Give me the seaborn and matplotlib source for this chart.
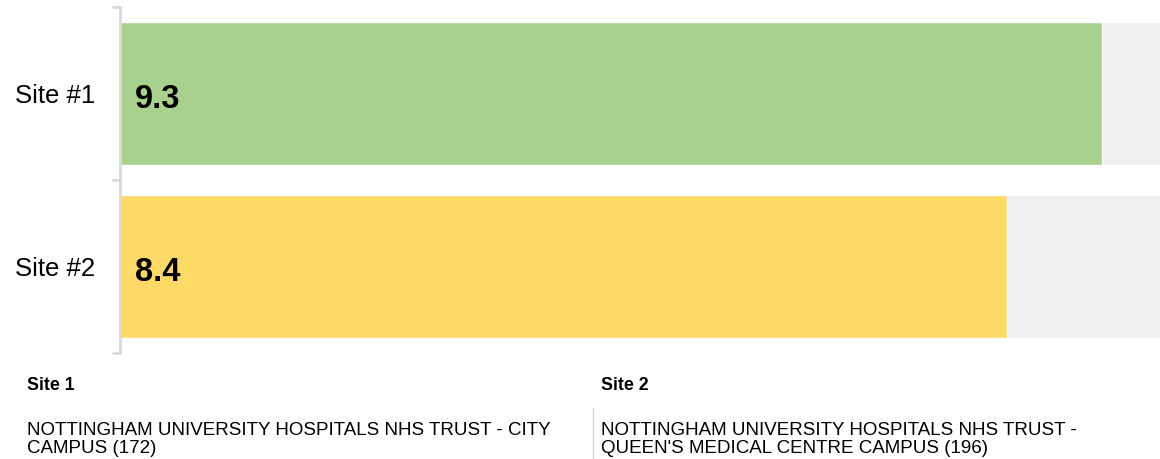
import matplotlib
matplotlib.use("Agg")
import matplotlib.pyplot as plt
import seaborn as sns

# Scores per site
sites = ["Site #1", "Site #2"]
scores = [9.3, 8.4]
score_max = [10, 10]
bar_colors = ["#a9d18e", "#ffd966"]

# Footer key: site headings and full names
key_titles = ["Site 1", "Site 2"]
key_names = [
    "NOTTINGHAM UNIVERSITY HOSPITALS NHS TRUST - CITY\nCAMPUS (172)",
    "NOTTINGHAM UNIVERSITY HOSPITALS NHS TRUST -\nQUEEN'S MEDICAL CENTRE CAMPUS (196)",
]

sns.set_theme(style="white")
plt.rcParams["font.family"] = ["Liberation Sans", "DejaVu Sans"]

W, H = 1160, 459
fig = plt.figure(figsize=(W / 100, H / 100), dpi=100)
ax = fig.add_axes([120 / W, (H - 353) / H, (W - 120) / W, 346 / H])

# Full-scale track behind each bar
sns.barplot(x=score_max, y=sites, color="#f0f0f0", width=0.83, orient="h",
            ax=ax, saturation=1)
sns.barplot(x=scores, y=sites, hue=sites, palette=bar_colors, width=0.83,
            orient="h", ax=ax, legend=False, saturation=1)

for i, v in enumerate(scores):
    ax.annotate(f"{v:.1f}", xy=(0, i), xytext=(11, -4), textcoords="offset points",
                ha="left", va="center", fontsize=23.5, fontweight="bold",
                color="#000000")

ax.set_xlim(0, 1040 / 105.6)
ax.set_ylim(1.5, -0.5)
ax.set_xlabel("")
ax.set_ylabel("")
ax.set_xticks([])

for s in ["top", "right", "bottom"]:
    ax.spines[s].set_visible(False)
ax.spines["left"].set_color("#d9d9d9")
ax.spines["left"].set_linewidth(2)

ax.set_yticks([0, 1])
ax.set_yticklabels(sites, fontsize=18.5, color="#000000")
ax.tick_params(axis="y", which="major", length=0, pad=18)
ax.set_yticks([-0.5, 0.5, 1.5], minor=True)
ax.tick_params(axis="y", which="minor", length=5.5, width=2, color="#d9d9d9",
               left=True)

# Footer key
for j, (t, n) in enumerate(zip(key_titles, key_names)):
    x0 = (27 if j == 0 else 601) / W
    fig.text(x0, 1 - 386 / H, t, fontsize=12.8, fontweight="bold",
             va="center", ha="left", color="#000000")
    fig.text(x0, 1 - 422 / H, n, fontsize=13.5, va="top", ha="left",
             color="#000000", linespacing=1.05)

fig.add_artist(plt.Line2D([593 / W, 593 / W], [0, 1 - 408 / H],
                          color="#d9d9d9", linewidth=1))

fig.savefig("out.png", dpi=100)
